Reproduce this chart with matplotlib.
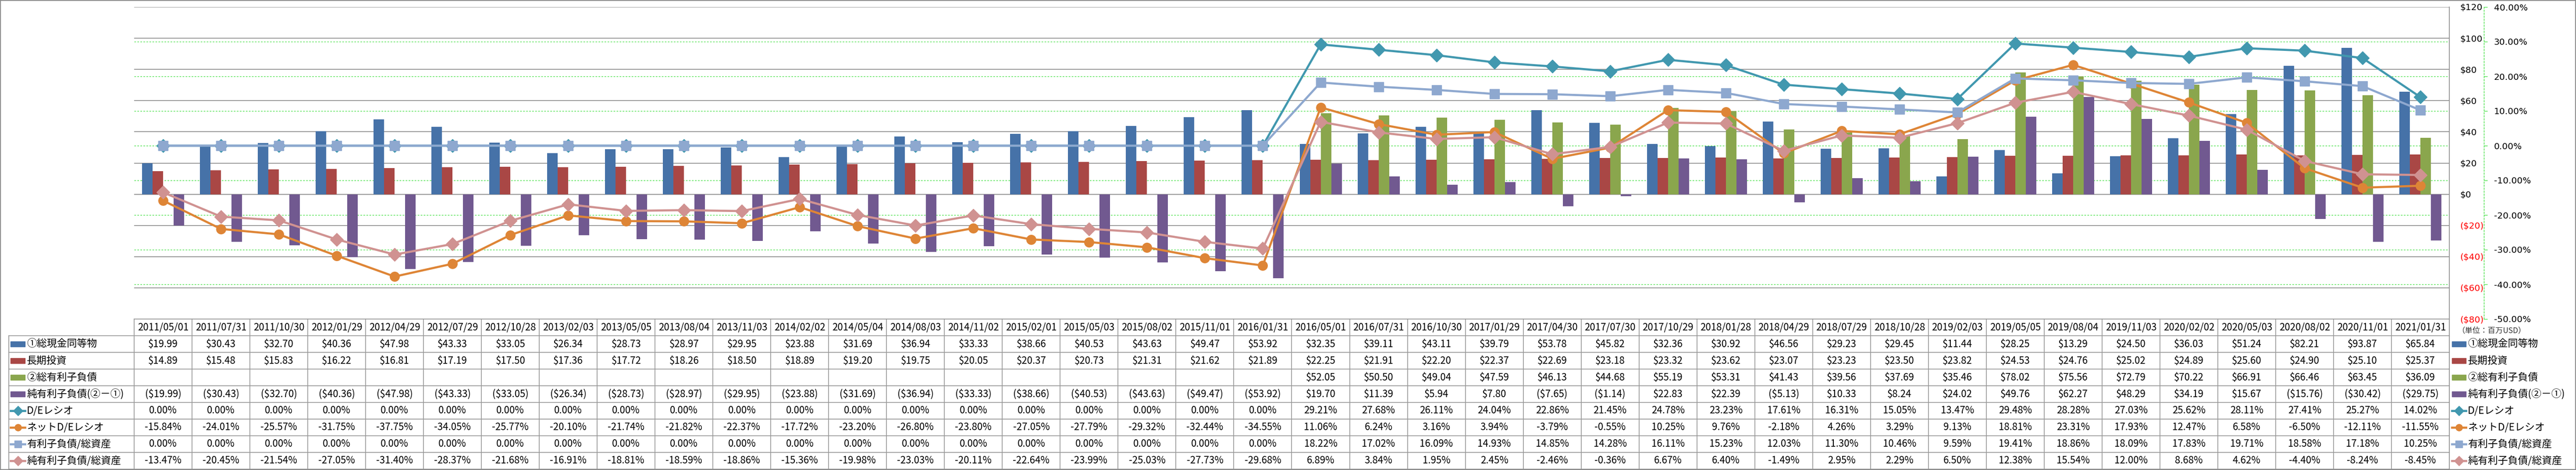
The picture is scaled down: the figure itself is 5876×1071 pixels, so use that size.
import numpy as np
import matplotlib as mpl
mpl.use('Agg')
import matplotlib.pyplot as plt
from matplotlib.lines import Line2D
from matplotlib.patches import Rectangle

plt.rcParams['font.family'] = ['Noto Sans CJK JP', 'DejaVu Sans']

# --- data (million USD / percent) ---
dates = ["2011/05/01", "2011/07/31", "2011/10/30", "2012/01/29", "2012/04/29", "2012/07/29",
         "2012/10/28", "2013/02/03", "2013/05/05", "2013/08/04", "2013/11/03", "2014/02/02",
         "2014/05/04", "2014/08/03", "2014/11/02", "2015/02/01", "2015/05/03", "2015/08/02",
         "2015/11/01", "2016/01/31", "2016/05/01", "2016/07/31", "2016/10/30", "2017/01/29",
         "2017/04/30", "2017/07/30", "2017/10/29", "2018/01/28", "2018/04/29", "2018/07/29",
         "2018/10/28", "2019/02/03", "2019/05/05", "2019/08/04", "2019/11/03", "2020/02/02",
         "2020/05/03", "2020/08/02", "2020/11/01", "2021/01/31"]

cash = [19.99, 30.43, 32.70, 40.36, 47.98, 43.33, 33.05, 26.34, 28.73, 28.97,
        29.95, 23.88, 31.69, 36.94, 33.33, 38.66, 40.53, 43.63, 49.47, 53.92,
        32.35, 39.11, 43.11, 39.79, 53.78, 45.82, 32.36, 30.92, 46.56, 29.23,
        29.45, 11.44, 28.25, 13.29, 24.50, 36.03, 51.24, 82.21, 93.87, 65.84]
invest = [14.89, 15.48, 15.83, 16.22, 16.81, 17.19, 17.50, 17.36, 17.72, 18.26,
          18.50, 18.89, 19.20, 19.75, 20.05, 20.37, 20.73, 21.31, 21.62, 21.89,
          22.25, 21.91, 22.20, 22.37, 22.69, 23.18, 23.32, 23.62, 23.07, 23.23,
          23.50, 23.82, 24.53, 24.76, 25.02, 24.89, 25.60, 24.90, 25.10, 25.37]
debt = [np.nan] * 20 + [52.05, 50.50, 49.04, 47.59, 46.13, 44.68, 55.19, 53.31, 41.43, 39.56,
                        37.69, 35.46, 78.02, 75.56, 72.79, 70.22, 66.91, 66.46, 63.45, 36.09]
net_debt = [-19.99, -30.43, -32.70, -40.36, -47.98, -43.33, -33.05, -26.34, -28.73, -28.97,
            -29.95, -23.88, -31.69, -36.94, -33.33, -38.66, -40.53, -43.63, -49.47, -53.92,
            19.70, 11.39, 5.94, 7.80, -7.65, -1.14, 22.83, 22.39, -5.13, 10.33,
            8.24, 24.02, 49.76, 62.27, 48.29, 34.19, 15.67, -15.76, -30.42, -29.75]
de_ratio = [0.0] * 20 + [29.21, 27.68, 26.11, 24.04, 22.86, 21.45, 24.78, 23.23, 17.61, 16.31,
                         15.05, 13.47, 29.48, 28.28, 27.03, 25.62, 28.11, 27.41, 25.27, 14.02]
net_de_ratio = [-15.84, -24.01, -25.57, -31.75, -37.75, -34.05, -25.77, -20.10, -21.74, -21.82,
                -22.37, -17.72, -23.20, -26.80, -23.80, -27.05, -27.79, -29.32, -32.44, -34.55,
                11.06, 6.24, 3.16, 3.94, -3.79, -0.55, 10.25, 9.76, -2.18, 4.26,
                3.29, 9.13, 18.81, 23.31, 17.93, 12.47, 6.58, -6.50, -12.11, -11.55]
debt_assets = [0.0] * 20 + [18.22, 17.02, 16.09, 14.93, 14.85, 14.28, 16.11, 15.23, 12.03, 11.30,
                            10.46, 9.59, 19.41, 18.86, 18.09, 17.83, 19.71, 18.58, 17.18, 10.25]
net_debt_assets = [-13.47, -20.45, -21.54, -27.05, -31.40, -28.37, -21.68, -16.91, -18.81, -18.59,
                   -18.86, -15.36, -19.98, -23.03, -20.11, -22.64, -23.99, -25.03, -27.73, -29.68,
                   6.89, 3.84, 1.95, 2.45, -2.46, -0.36, 6.67, 6.40, -1.49, 2.95,
                   2.29, 6.50, 12.38, 15.54, 12.00, 8.68, 4.62, -4.40, -8.24, -8.45]

bar_labels = ["①総現金同等物", "長期投資", "②総有利子負債", "純有利子負債(②－①)"]
line_labels = ["D/Eレシオ", "ネットD/Eレシオ", "有利子負債/総資産", "純有利子負債/総資産"]
unit_label = "（単位：百万USD）"

# --- style ---
bar_colors = ['#4672A8', '#A94745', '#8AA64D', '#715990']
line_colors = ['#4198AF', '#DE8536', '#8EA8CF', '#D09291']
line_markers = ['D', 'o', 's', 'D']
marker_sizes = [15, 15.5, 16, 15]
grid_gray = '#8C8C8C'
grid_green = '#33DD33'
table_gray = '#9A9A9A'

W, H = 5876, 1071
n = len(dates)
x = np.arange(n)

fig = plt.figure(figsize=(W / 100, H / 100), dpi=100)
fig.patch.set_facecolor('white')

plot_left, plot_right, plot_top, plot_bottom = 306, 5587, 16, 727
rect = [plot_left / W, 1 - plot_bottom / H, (plot_right - plot_left) / W, (plot_bottom - plot_top) / H]

ax_p = fig.add_axes(rect)       # percent axis: green grid + labels
ax_d = ax_p.twinx()             # dollar axis: bars
ax_l = ax_p.twinx()             # percent lines on top

ax_p.set_xlim(-0.5, n - 0.5)
ax_p.set_ylim(-50, 40)
ax_p.set_xticks([])
pct_ticks = list(range(-50, 41, 10))
ax_p.yaxis.tick_right()
ax_p.set_yticks(pct_ticks)
ax_p.set_yticklabels(["%.2f%%" % v for v in pct_ticks])
ax_p.tick_params(axis='y', which='both', left=False, labelleft=False, right=True, labelright=True,
                 direction='out', length=5.8, width=0.9, color=grid_green,
                 pad=10.5, labelsize=14.5, labelfontfamily='DejaVu Sans')
for lbl, v in zip(ax_p.get_yticklabels(), pct_ticks):
    lbl.set_color('red' if v < 0 else 'black')
for s in ['top', 'left', 'bottom']:
    ax_p.spines[s].set_visible(False)
ax_p.spines['right'].set_visible(True)
ax_p.spines['right'].set_position(('outward', 56.9))
ax_p.spines['right'].set_color(grid_green)
ax_p.spines['right'].set_linestyle((0, (3, 2.5)))
ax_p.spines['right'].set_linewidth(0.9)
for v in range(-40, 31, 10):
    ax_p.axhline(v, color=grid_green, lw=0.9, ls=(0, (3, 2.5)), zorder=0)

ax_d.set_ylim(-80, 120)
usd_ticks = list(range(-80, 121, 20))
ax_d.set_yticks(usd_ticks)
ax_d.set_yticklabels(["$%d" % v if v >= 0 else "($%d)" % -v for v in usd_ticks])
ax_d.tick_params(axis='y', length=0, pad=17.3, labelsize=14.5, labelfontfamily='DejaVu Sans')
for lbl, v in zip(ax_d.get_yticklabels(), usd_ticks):
    lbl.set_color('red' if v < 0 else 'black')
for s in ax_d.spines.values():
    s.set_visible(False)
for v in range(-60, 121, 20):
    ax_d.axhline(v, color=grid_gray, lw=1.3, zorder=0.5)

w = 24 / 132
bar_series = [cash, invest, debt, net_debt]
for i, (vals, col) in enumerate(zip(bar_series, bar_colors)):
    ax_d.bar(x + (i - 1.5) * w, vals, width=w, color=col, zorder=2)

ax_l.set_ylim(-50, 40)
ax_l.set_axis_off()
line_series = [de_ratio, net_de_ratio, debt_assets, net_debt_assets]
for vals, col, mk, ms in zip(line_series, line_colors, line_markers, marker_sizes):
    ax_l.plot(x, vals, color=col, lw=3.5, marker=mk, ms=ms, mec=col, mew=1,
              solid_joinstyle='round', solid_capstyle='round')

# --- data table ---
tab = fig.add_axes([plot_left / W, 1 - 1069 / H, (plot_right - plot_left) / W, (1069 - 727) / H])
tab.set_xlim(-0.5, n - 0.5)
tab.set_ylim(9, 0)
tab.axis('off')

col_px = (plot_right - plot_left) / n
def px2x(px):
    return (px - plot_left) / col_px - 0.5

left_x = px2x(20)
tab.plot([-0.5, n - 0.5], [0, 0], color=table_gray, lw=1.3, clip_on=False)
for r in range(1, 10):
    tab.plot([left_x, n - 0.5], [r, r], color=table_gray, lw=1.3, clip_on=False)
for k in range(n):
    tab.plot([k - 0.5, k - 0.5], [0, 9], color=table_gray, lw=1.3, clip_on=False)
tab.plot([left_x, left_x], [1, 9], color=table_gray, lw=1.3, clip_on=False)

def fmt_usd(v):
    if v is None or np.isnan(v):
        return ""
    return "$%.2f" % v if v >= 0 else "($%.2f)" % -v

def fmt_pct(v):
    return "%.2f%%" % v

for k, d in enumerate(dates):
    tab.text(k, 0.5, d, ha='center', va='center', fontsize=16)
rows = [(s, fmt_usd) for s in bar_series] + [(s, fmt_pct) for s in line_series]
for r, (vals, f) in enumerate(rows):
    for k, v in enumerate(vals):
        tab.text(k, r + 1.5, f(v), ha='center', va='center', fontsize=16)

def draw_keys(x0, x1, xt):
    for r, (lab, col) in enumerate(zip(bar_labels, bar_colors)):
        yc = r + 1.5
        tab.add_patch(Rectangle((x0, yc - 0.17), x1 - x0, 0.34, color=col, clip_on=False))
        tab.text(xt, yc, lab, ha='left', va='center', fontsize=16.5, clip_on=False)
    for r, (lab, col, mk) in enumerate(zip(line_labels, line_colors, line_markers)):
        yc = r + 5.5
        tab.plot([x0, x1], [yc, yc], color=col, lw=3.5, clip_on=False)
        tab.plot([(x0 + x1) / 2], [yc], marker=mk, ms=11, color=col, clip_on=False)
        tab.text(xt, yc, lab, ha='left', va='center', fontsize=16.5, clip_on=False)

draw_keys(px2x(24), px2x(57), px2x(61))
draw_keys(px2x(5593), px2x(5625), px2x(5629))
tab.text(px2x(5606), 0.7, unit_label, ha='left', va='center', fontsize=12.5,
         color='#333333', clip_on=False)

# frame lines
fig.add_artist(Line2D([plot_right / W] * 2, [0, 1 - plot_top / H], color=grid_gray, lw=1.3))
fig.add_artist(Rectangle((0.0001, 0.0005), 0.9997, 0.9985, fill=False, edgecolor=grid_gray,
                         lw=1.5, transform=fig.transFigure))

fig.savefig('out.png', dpi=100, facecolor='white')
